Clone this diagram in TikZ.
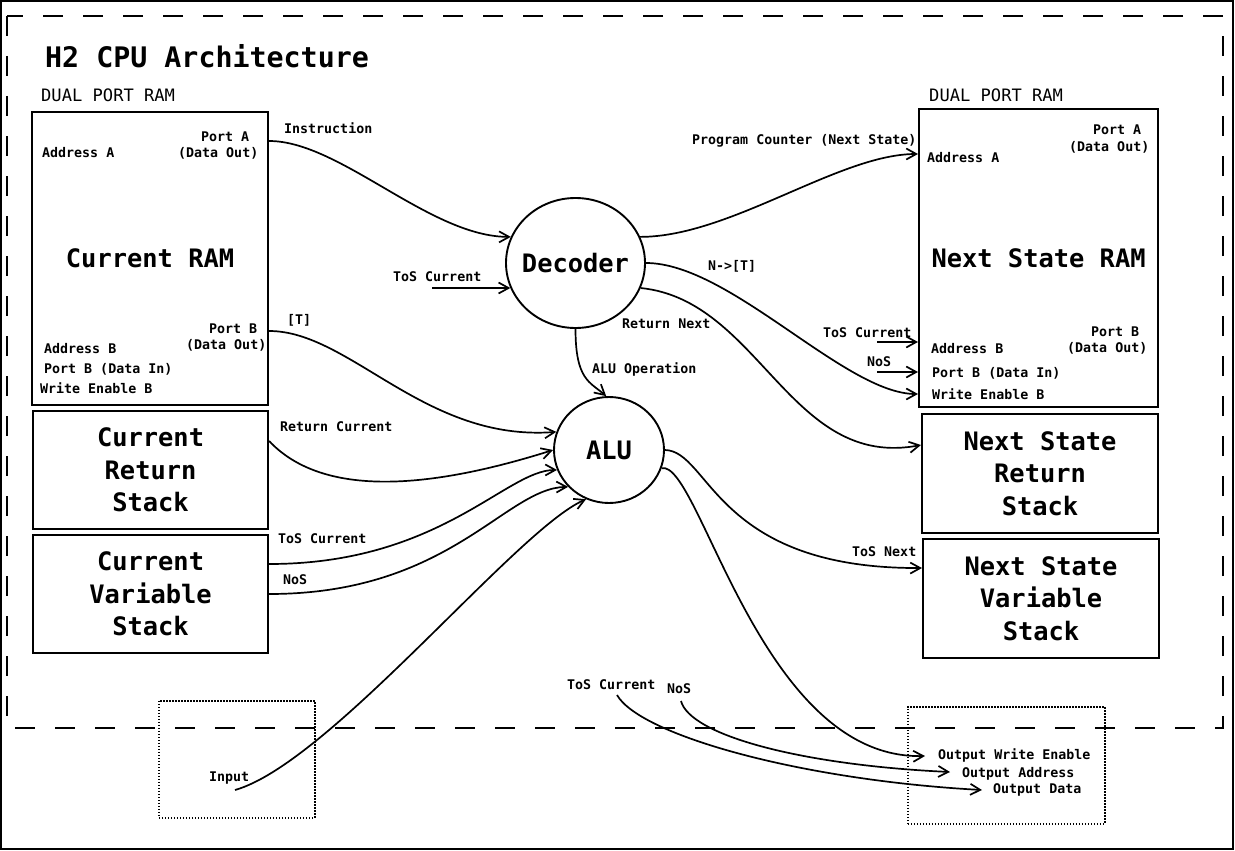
\documentclass[tikz,border=0pt]{standalone}
\usepackage{fontspec}
\setmonofont{DejaVu Sans Mono}
\usetikzlibrary{arrows.meta,shapes.geometric}
\tikzset{
  lbl/.style={font=\ttfamily\bfseries\fontsize{13.3}{16}\selectfont, inner sep=0pt, anchor=base west},
  bigt/.style={font=\ttfamily\bfseries\fontsize{25.4}{32.5}\selectfont},
  hdr/.style={font=\ttfamily\fontsize{17.1}{20}\selectfont, inner sep=0pt, anchor=base west},
  ttl/.style={font=\ttfamily\bfseries\fontsize{28.3}{34}\selectfont, inner sep=0pt, anchor=base west},
  blk/.style={draw, line width=2.1pt, inner sep=0pt, anchor=north west, bigt, align=center},
  unit/.style={draw, ellipse, line width=1.9pt, inner sep=0pt},
  io/.style={draw, line width=1.5pt, dash pattern=on 1.5pt off 1.5pt, anchor=north west, inner sep=0pt},
  conn/.style={line width=1.7pt, -{Straight Barb[length=10pt,width=11pt]}},
}
\begin{document}
\begin{tikzpicture}[x=1pt,y=-1pt]
\useasboundingbox (0,0) rectangle (1235,851);
\draw[line width=2pt] (1,1) rectangle (1233,849);
\draw[line width=2pt, dash pattern=on 20pt off 20pt] (7,16) rectangle (1223,728);

\node[ttl] (title) at (45,68) {H2 CPU Architecture};
\node[hdr] (hdrl) at (41,102) {DUAL PORT RAM};
\node[hdr] (hdrr) at (929,101) {DUAL PORT RAM};

% blocks
\node[blk, minimum width=236pt, minimum height=293pt] (cram) at (31,111) {Current RAM};
\node[blk, minimum width=235pt, minimum height=118pt] (crs) at (32,410) {Current\\Return\\Stack};
\node[blk, minimum width=235pt, minimum height=118pt] (cvs) at (32,534) {Current\\Variable\\Stack};
\node[blk, minimum width=239pt, minimum height=298pt] (nram) at (918,108) {Next State RAM};
\node[blk, minimum width=236pt, minimum height=119pt] (nrs) at (921,413) {Next State\\Return\\Stack};
\node[blk, minimum width=236pt, minimum height=119pt] (nvs) at (922,538) {Next State\\Variable\\Stack};

\node[unit, minimum width=139pt, minimum height=130pt] (dec) at (575.5,263) {};
\node[bigt, inner sep=0pt] (decl) at (dec.center) {Decoder};
\node[unit, minimum width=110pt, minimum height=106pt] (alu) at (609,450) {};
\node[bigt, inner sep=0pt] (alul) at (alu.center) {ALU};

\node[io, minimum width=156pt, minimum height=117pt] (inbox) at (158,700) {};
\node[io, minimum width=197pt, minimum height=117pt] (outbox) at (907,706) {};

% port labels, left RAM
\node[lbl] (lcaa) at (42,157) {Address A};
\node[lbl] (lcpa) at (201,141) {Port A};
\node[lbl] (lcpad) at (178,157) {(Data Out)};
\node[lbl] (lcpb) at (209,333) {Port B};
\node[lbl] (lcpbd) at (186,349) {(Data Out)};
\node[lbl] (lcab) at (44,353) {Address B};
\node[lbl] (lcpbi) at (44,373) {Port B (Data In)};
\node[lbl] (lcwe) at (40,393) {Write Enable B};

% port labels, right RAM
\node[lbl] (lnpa) at (1093,134) {Port A};
\node[lbl] (lnpad) at (1069,151) {(Data Out)};
\node[lbl] (lnaa) at (927,162) {Address A};
\node[lbl] (lnpb) at (1091,336) {Port B};
\node[lbl] (lnpbd) at (1067,352) {(Data Out)};
\node[lbl] (lnab) at (931,353) {Address B};
\node[lbl] (lnpbi) at (932,377) {Port B (Data In)};
\node[lbl] (lnwe) at (932,399) {Write Enable B};

% connector labels
\node[lbl] (linstr) at (284,133) {Instruction};
\node[lbl] (ltosd) at (393,281) {ToS Current};
\node[lbl] (lt) at (287,324) {[T]};
\node[lbl] (lretc) at (280,431) {Return Current};
\node[lbl] (ltosc) at (278,543) {ToS Current};
\node[lbl] (lnosc) at (283,584) {NoS};
\node[lbl] (linput) at (209,781) {Input};
\node[lbl] (lpc) at (692,144) {Program Counter (Next State)};
\node[lbl] (lnt) at (708,270) {N->[T]};
\node[lbl] (lretn) at (622,328) {Return Next};
\node[lbl] (lop) at (592,373) {ALU Operation};
\node[lbl] (ltosn) at (823,337) {ToS Current};
\node[lbl] (lnosn) at (867,366) {NoS};
\node[lbl] (ltosnext) at (852,556) {ToS Next};
\node[lbl] (lbtos) at (567,689) {ToS Current};
\node[lbl] (lbnos) at (667,693) {NoS};
\node[lbl] (lowe) at (938,759) {Output Write Enable};
\node[lbl] (loadr) at (962,777) {Output Address};
\node[lbl] (lodat) at (993,793) {Output Data};

% free ends
\coordinate (tosin) at (432,288);
\coordinate (tosn) at (877,342);
\coordinate (nosn) at (877,372);
\coordinate (inp) at (235,790);
\coordinate (btos) at (617,695);
\coordinate (bnos) at (681,701);
\coordinate (owe) at (925,756);
\coordinate (oadr) at (950,772);
\coordinate (odat) at (982,790);

% connectors into decoder
\draw[conn] (cram.east |- 0,141) .. controls (340,141) and (430,237) .. (dec.158);
\draw[conn] (tosin) -- (tosin -| dec.201);

% connectors into ALU
\draw[conn] (cram.east |- 0,331) .. controls (350,331) and (425,442) .. (alu.161);
\draw[conn] (crs.east |- 0,441) .. controls (320,495) and (420,492) .. (alu.180);
\draw[conn] (cvs.east |- 0,564) .. controls (440,564) and (506,470) .. (alu.201);
\draw[conn] (cvs.east |- 0,594) .. controls (450,594) and (505,488) .. (alu.222);
\draw[conn] (inp) .. controls (330,763) and (516,530) .. (alu.245);
\draw[conn] (dec.south) .. controls (575.5,380) and (590,382) .. (alu.93);

% decoder outputs
\draw[conn] (dec.22) .. controls (730,237) and (839,154) .. (nram.west |- 0,154);
\draw[conn] (dec.east) .. controls (730,263) and (845,394) .. (nram.west |- 0,394);
\draw[conn] (dec.339) .. controls (760,300) and (790,470) .. (nrs.west |- 0,445);

% into next state RAM
\draw[conn] (tosn) -- (tosn -| nram.west);
\draw[conn] (nosn) -- (nosn -| nram.west);

% ALU outputs
\draw[conn] (alu.east) .. controls (710,451) and (715,569) .. (nvs.west |- 0,568);
\draw[conn] (alu.341) .. controls (700,460) and (760,760) .. (owe);

% outputs
\draw[conn] (btos) .. controls (640,735) and (800,780) .. (odat);
\draw[conn] (bnos) .. controls (690,735) and (800,765) .. (oadr);
\end{tikzpicture}
\end{document}
